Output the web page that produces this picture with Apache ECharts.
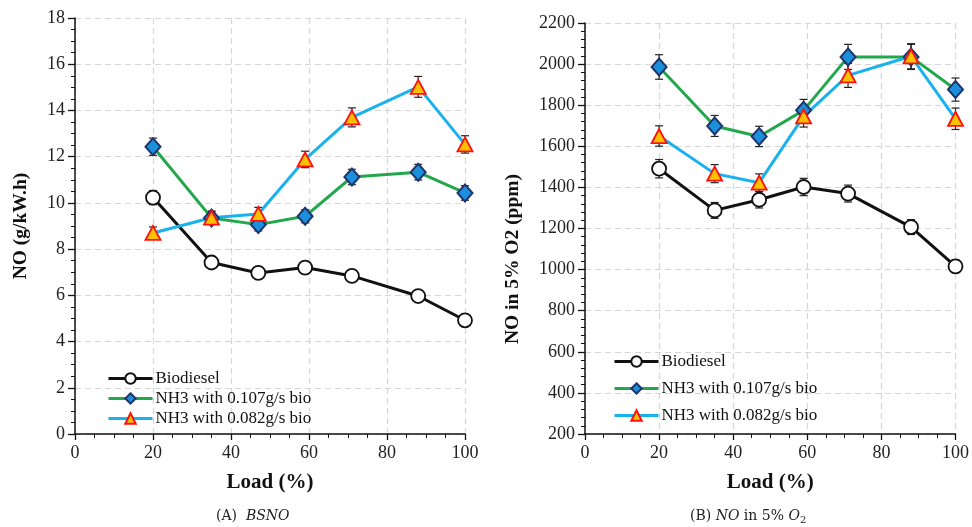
<!DOCTYPE html>
<html>
<head>
<meta charset="utf-8">
<script src="https://cdn.jsdelivr.net/npm/echarts@6/dist/echarts.min.js"></script>
<style>
  html, body { margin: 0; padding: 0; background: #fff; }
  #main { width: 972px; height: 527px; }
</style>
</head>
<body>
<div id="main"></div>
<script>
// engine load (%)
var load = [20, 35, 47, 59, 71, 88, 100];

// (A) BSNO, g/kW.h
var bsnoBio = [10.23, 7.42, 6.97, 7.2, 6.84, 5.97, 4.92];
var bsnoNH3_107 = [12.43, 9.35, 9.06, 9.42, 11.12, 11.33, 10.43];
var bsnoNH3_082 = [8.7, 9.36, 9.52, 11.88, 13.7, 15.02, 12.53];

// (B) NO in 5% O2, ppm
var noBio = [1491, 1288, 1340, 1402, 1370, 1207, 1016];
var noNH3_107 = [1986, 1699, 1648, 1775, 2035, 2035, 1876];
var noNH3_082 = [1650, 1467, 1423, 1746, 1945, 2038, 1734];

// error bars are +/- 3 % of each value
var errPct = 0.03;

var names = ['Biodiesel', 'NH3 with 0.107g/s bio', 'NH3 with 0.082g/s bio'];
var serif = 'Liberation Serif';

function pairs(vals) {
    return load.map(function (x, i) { return [x, vals[i]]; });
}
function errData(vals) {
    return load.map(function (x, i) {
        return [x, vals[i] * (1 - errPct), vals[i] * (1 + errPct)];
    });
}
function errSeries(vals, gi) {
    return {
        type: 'custom',
        xAxisIndex: gi, yAxisIndex: gi,
        z: 1,
        silent: true,
        data: errData(vals),
        encode: { x: 0, y: [1, 2] },
        renderItem: function (params, api) {
            var x = api.value(0);
            var top = api.coord([x, api.value(2)]);
            var bot = api.coord([x, api.value(1)]);
            var w = 4;
            var st = { stroke: '#222', lineWidth: 1.2 };
            return {
                type: 'group',
                children: [
                    { type: 'line', shape: { x1: top[0], y1: top[1], x2: bot[0], y2: bot[1] }, style: st },
                    { type: 'line', shape: { x1: top[0] - w, y1: top[1], x2: top[0] + w, y2: top[1] }, style: st },
                    { type: 'line', shape: { x1: bot[0] - w, y1: bot[1], x2: bot[0] + w, y2: bot[1] }, style: st }
                ]
            };
        }
    };
}
function lineSeries(name, vals, gi, kind) {
    var s = {
        name: name,
        type: 'line',
        xAxisIndex: gi, yAxisIndex: gi,
        z: 3,
        data: pairs(vals),
        symbolSize: 14
    };
    if (kind === 0) {
        s.symbol = 'circle';
        s.lineStyle = { color: '#111', width: 3 };
        s.itemStyle = { color: '#fff', borderColor: '#111', borderWidth: 1.8 };
    } else if (kind === 1) {
        s.symbol = 'diamond';
        s.symbolSize = [15, 17];
        s.lineStyle = { color: '#22a84c', width: 3 };
        s.itemStyle = { color: '#1b8fdc', borderColor: '#1f3468', borderWidth: 2 };
    } else {
        s.symbol = 'triangle';
        s.symbolSize = [15, 14];
        s.lineStyle = { color: '#1ab2ee', width: 3 };
        s.itemStyle = { color: '#ffc000', borderColor: '#ff1010', borderWidth: 1.8 };
    }
    return s;
}

function xAx(gi) {
    return {
        gridIndex: gi,
        type: 'value',
        min: 0, max: 100, interval: 20,
        name: 'Load (%)',
        nameLocation: 'middle',
        nameGap: 38,
        nameTextStyle: { fontFamily: serif, fontWeight: 'bold', fontSize: 21, color: '#111' },
        axisLine: { lineStyle: { color: '#111', width: 1.5 } },
        axisTick: { length: 6, lineStyle: { color: '#111', width: 1.3 } },
        minorTick: { show: true, splitNumber: 4, length: 4, lineStyle: { color: '#111', width: 1 } },
        axisLabel: { fontFamily: serif, fontSize: 18, color: '#222', margin: 10 },
        splitLine: { show: true, lineStyle: { color: '#d6d6d6', type: [6, 4], width: 1.2 } }
    };
}
function yAx(gi, min, max, step, name, gap, minor) {
    return {
        gridIndex: gi,
        type: 'value',
        min: min, max: max, interval: step,
        name: name,
        nameLocation: 'middle',
        nameGap: gap,
        nameTextStyle: { fontFamily: serif, fontWeight: 'bold', fontSize: 19.5, color: '#111' },
        axisLine: { show: true, lineStyle: { color: '#111', width: 1.5 } },
        axisTick: { show: true, length: 7, lineStyle: { color: '#111', width: 1.3 } },
        minorTick: { show: true, splitNumber: minor, length: 4, lineStyle: { color: '#111', width: 1 } },
        axisLabel: {
            fontFamily: serif, fontSize: 18, color: '#222', margin: 10,
            formatter: function (v) { return String(v); }
        },
        splitLine: { show: true, lineStyle: { color: '#d6d6d6', type: [6, 4], width: 1.2 } }
    };
}

var legendBase = {
    orient: 'vertical',
    padding: 0,
    itemWidth: 44,
    itemHeight: 13,
    lineStyle: { width: 3 },
    textStyle: { fontFamily: serif, fontSize: 17, color: '#111', padding: [0, 0, 0, -2] },
    data: names
};

var myChart = echarts.init(document.getElementById('main'));
var option = {
    backgroundColor: '#fff',
    animation: false,
    grid: [
        { left: 75, top: 18, width: 390, height: 416 },
        { left: 585, top: 23, width: 371, height: 411 }
    ],
    xAxis: [xAx(0), xAx(1)],
    yAxis: [
        yAx(0, 0, 18, 2, 'NO (g/kW.h)', 44, 4),
        yAx(1, 200, 2200, 200, '', 62, 5)
    ],
    legend: [
        Object.assign({}, legendBase, { left: 107, top: 370, itemGap: 3 }),
        Object.assign({}, legendBase, { left: 613, top: 353, itemGap: 10 })
    ],
    graphic: [
        {
            // right axis title sits lower than the axis centre in the original
            type: 'text', x: 513, y: 259, rotation: Math.PI / 2,
            style: {
                text: 'NO in 5% O2 (ppm)',
                font: 'bold 19.5px "Liberation Serif"', fill: '#111',
                align: 'center', verticalAlign: 'middle'
            }
        },
        {
            type: 'text', left: 216, top: 509,
            style: {
                text: '(A)  {i|BSNO}',
                font: '14px "DejaVu Serif"', fill: '#222',
                rich: { i: { fontStyle: 'italic', fontFamily: 'DejaVu Serif', fontSize: 14 } }
            }
        },
        {
            type: 'text', left: 690, top: 509,
            style: {
                text: '(B) {i|NO} in 5% {i|O}{s|2}',
                font: '14px "DejaVu Serif"', fill: '#222',
                rich: {
                    i: { fontStyle: 'italic', fontFamily: 'DejaVu Serif', fontSize: 14 },
                    s: { fontFamily: 'DejaVu Serif', fontSize: 10, padding: [8, 0, 0, 0] }
                }
            }
        }
    ],
    series: [
        errSeries(bsnoBio, 0),
        errSeries(bsnoNH3_107, 0),
        errSeries(bsnoNH3_082, 0),
        errSeries(noBio, 1),
        errSeries(noNH3_107, 1),
        errSeries(noNH3_082, 1),
        lineSeries(names[0], bsnoBio, 0, 0),
        lineSeries(names[1], bsnoNH3_107, 0, 1),
        lineSeries(names[2], bsnoNH3_082, 0, 2),
        lineSeries(names[0], noBio, 1, 0),
        lineSeries(names[1], noNH3_107, 1, 1),
        lineSeries(names[2], noNH3_082, 1, 2)
    ]
};

myChart.setOption(option);
</script>
</body>
</html>
